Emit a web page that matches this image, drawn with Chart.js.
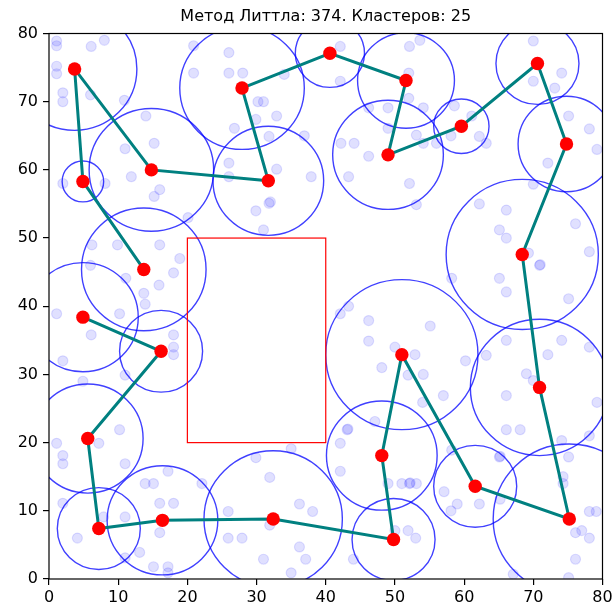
<!DOCTYPE html>
<html>
<head>
<meta charset="utf-8">
<script src="https://cdn.jsdelivr.net/npm/chart.js@4/dist/chart.umd.min.js"></script>
<style>
html,body{margin:0;padding:0;background:#fff;}
#wrap{width:612px;height:608px;}
</style>
</head>
<body>
<div id="wrap"><canvas id="c" width="612" height="608"></canvas></div>
<script>
// ---------- DATA ----------
const titleText = "Метод Литтла: 374. Кластеров: 25";
const axisTicks = [0, 10, 20, 30, 40, 50, 60, 70, 80];

// cluster centres in tour order, and cluster radii
const clusterX = [13.7, 4.9, 3.7, 14.8, 31.7, 27.9, 40.6, 51.6, 49.0, 59.6, 70.6, 74.8, 68.4, 70.9, 75.2, 61.6, 51.0, 48.1, 49.8, 32.4, 16.4, 7.2, 5.6, 16.2, 4.9];
const clusterY = [45.4, 58.3, 74.8, 60.0, 58.4, 72.0, 77.1, 73.1, 62.2, 66.4, 75.6, 63.8, 47.6, 28.1, 8.8, 13.6, 32.9, 18.1, 5.8, 8.8, 8.6, 7.4, 20.6, 33.4, 38.4];
const clusterR = [9, 3, 9, 9, 8, 9, 5, 7, 8, 4, 6, 7, 11, 10, 11, 6, 11, 8, 6, 10, 8, 6, 8, 6, 8];

// forbidden zone rectangle
const zoneX = [20, 40];
const zoneY = [20, 50];

// all source points
const pointsX = [
 1.1,1.1,6.1,8.0,1.1,1.1,2.0,2.0,6.0,10.9,
 14.0,15.2,11.0,11.9,16.0,15.2,
 2.0,8.1,20.1,
 6.2,9.9,16.0,18.9,6.0,18.0,11.1,15.9,13.7,13.9,
 20.9,20.9,26.0,26.0,28.0,34.0,30.2,31.0,26.8,29.9,32.9,
 31.8,36.9,26.0,26.0,32.9,37.9,31.8,32.0,29.9,31.0,
 42.1,42.1,
 52.1,53.6,52.0,52.0,46.2,49.0,54.1,49.0,53.1,
 54.1,56.0,42.2,44.1,46.2,43.3,52.1,53.1,
 58.1,58.6,61.1,62.2,63.2,
 70.0,74.1,70.0,73.1,
 75.1,78.1,79.2,72.1,70.0,
 62.2,66.1,65.1,66.1,76.1,78.1,69.3,70.9,71.0,65.1,66.1,75.1,58.2,
 1.1,10.2,6.1,2.0,4.9,
 18.0,18.0,18.0,11.0,
 1.1,2.0,2.0,7.2,10.2,11.0,2.0,
 17.2,13.9,15.1,16.0,18.0,22.1,16.0,13.1,11.0,15.1,17.2,17.2,
 7.9,11.0,4.1,
 25.9,25.9,27.9,29.9,31.9,35.0,36.2,38.1,31.9,31.0,36.2,37.1,35.0,
 42.1,43.3,46.2,46.2,50.0,52.9,55.1,48.1,51.9,54.1,60.2,57.0,54.0,
 43.1,43.2,42.1,42.1,47.1,49.0,51.0,52.1,52.2,53.1,
 50.0,51.9,53.0,44.0,
 58.2,57.1,59.0,58.1,62.2,65.1,65.2,65.2,
 66.1,63.2,69.0,70.0,66.1,66.1,68.1,72.1,74.1,78.1,79.2,
 78.1,74.1,75.1,74.3,74.3,78.1,79.1,76.1,77.0,78.1,76.1,75.1,67.1
];
const pointsY = [
 78.9,78.2,78.1,79.0,75.2,74.1,71.3,70.0,71.0,70.2,
 67.9,63.9,63.1,59.0,57.1,56.1,
 58.0,58.0,53.0,
 49.0,49.0,49.0,47.0,46.0,44.9,44.1,43.1,41.9,40.3,
 78.2,74.2,77.2,74.2,74.2,74.0,70.0,70.0,66.1,67.4,67.9,
 64.9,65.0,61.0,59.0,60.1,59.0,55.1,55.3,54.0,51.2,
 78.1,73.0,
 78.1,79.0,74.2,70.5,69.1,69.1,69.1,66.1,65.1,
 63.9,63.9,63.9,63.9,62.0,59.0,58.0,54.9,
 65.0,69.4,67.9,64.9,63.9,
 78.9,74.2,73.0,72.0,
 67.9,66.0,63.0,61.0,57.9,
 55.0,54.1,51.2,50.0,52.1,48.0,47.8,46.0,46.1,44.1,42.1,41.1,44.1,
 38.9,38.9,35.8,32.0,29.0,
 35.8,34.0,32.9,29.9,
 19.9,18.1,16.9,19.9,21.9,16.9,11.1,
 15.8,14.0,14.0,11.1,11.1,14.0,6.8,3.9,3.1,1.8,1.8,0.9,
 9.1,9.1,6.0,
 9.9,6.0,6.0,17.8,14.9,19.1,11.0,9.9,7.9,2.9,4.7,2.9,0.9,
 38.9,40.0,37.9,34.9,34.0,32.9,37.1,31.0,29.9,30.0,32.0,26.9,25.9,
 21.9,22.0,19.9,15.8,23.1,14.0,14.0,14.0,14.1,14.0,
 7.1,7.1,6.0,2.9,
 18.9,12.8,11.0,10.0,11.0,17.9,18.0,11.7,
 35.0,32.8,30.1,29.1,26.9,21.9,21.9,32.9,35.0,34.0,25.9,
 21.0,20.3,17.9,15.0,14.0,9.9,9.9,6.8,7.1,6.0,2.9,0.2,0.7
];

// ---------- BUILD ----------
const bgData = pointsX.map((x, i) => ({x: x, y: pointsY[i]}));
const tourData = clusterX.map((x, i) => ({x: x, y: clusterY[i]}));

Chart.defaults.font.family = "'DejaVu Sans', sans-serif";
Chart.defaults.color = '#000';

const overlay = {
  id: 'overlay',
  afterDatasetDraw(chart, args) {
    if (args.index !== 0) return;
    const ctx = chart.ctx, a = chart.chartArea;
    const xs = chart.scales.x, ys = chart.scales.y;
    ctx.save();
    ctx.beginPath();
    ctx.rect(a.left, a.top, a.right - a.left, a.bottom - a.top);
    ctx.clip();
    ctx.strokeStyle = 'rgba(0,0,255,0.75)';
    ctx.lineWidth = 1.4;
    for (let i = 0; i < clusterX.length; i++) {
      const cx = xs.getPixelForValue(clusterX[i]);
      const cy = ys.getPixelForValue(clusterY[i]);
      const rx = Math.abs(xs.getPixelForValue(clusterX[i] + clusterR[i]) - cx);
      const ry = Math.abs(ys.getPixelForValue(clusterY[i] + clusterR[i]) - cy);
      ctx.beginPath();
      ctx.ellipse(cx, cy, rx, ry, 0, 0, Math.PI * 2);
      ctx.stroke();
    }
    // forbidden zone
    const x0 = xs.getPixelForValue(zoneX[0]), x1 = xs.getPixelForValue(zoneX[1]);
    const y0 = ys.getPixelForValue(zoneY[0]), y1 = ys.getPixelForValue(zoneY[1]);
    ctx.strokeStyle = '#ff0000';
    ctx.lineWidth = 1.2;
    ctx.strokeRect(x0, y1, x1 - x0, y0 - y1);
    ctx.restore();
  },
  afterDraw(chart) {
    const ctx = chart.ctx, a = chart.chartArea;
    ctx.save();
    ctx.strokeStyle = '#000';
    ctx.lineWidth = 1.2;
    ctx.strokeRect(a.left, a.top, a.right - a.left, a.bottom - a.top);
    // title centred over the plot area
    ctx.fillStyle = '#000';
    ctx.font = "16px 'DejaVu Sans', sans-serif";
    ctx.textAlign = 'center';
    ctx.textBaseline = 'middle';
    ctx.fillText(titleText, (a.left + a.right) / 2, 17);
    ctx.restore();
  }
};

function fixedWidth(w) {
  return function (scale) { scale.width = w; scale.paddingLeft = 0; scale.paddingRight = 0; scale.paddingTop = 0; scale.paddingBottom = 0; };
}
function fixedHeight(h) {
  return function (scale) { scale.height = h; scale.paddingLeft = 0; scale.paddingRight = 0; scale.paddingTop = 0; scale.paddingBottom = 0; };
}

new Chart(document.getElementById('c'), {
  type: 'scatter',
  data: {
    datasets: [
      {
        data: bgData,
        pointRadius: 5,
        pointBackgroundColor: 'rgba(0,0,255,0.12)',
        pointBorderColor: 'rgba(0,0,255,0.12)',
        pointBorderWidth: 1.2,
        order: 2,
        clip: 0
      },
      {
        data: tourData,
        showLine: true,
        borderColor: '#008080',
        borderWidth: 3,
        pointRadius: 6.7,
        pointBackgroundColor: '#ff0000',
        pointBorderColor: '#ff0000',
        pointBorderWidth: 0,
        order: 1,
        clip: 0
      }
    ]
  },
  options: {
    responsive: false,
    animation: false,
    events: [],
    layout: { padding: { left: 0, right: 9.5, top: 33.5, bottom: 0 } },
    plugins: {
      legend: { display: false },
      tooltip: { enabled: false },
      title: { display: false }
    },
    scales: {
      x: {
        type: 'linear',
        min: 0, max: 80,
        afterBuildTicks: (s) => { s.ticks = axisTicks.map(v => ({value: v})); },
        afterFit: fixedHeight(29),
        grid: { drawOnChartArea: false, drawTicks: true, tickLength: 6, color: '#000', lineWidth: 1.2 },
        border: { display: false },
        ticks: { padding: 3, font: { size: 16 }, color: '#000', maxRotation: 0 }
      },
      y: {
        type: 'linear',
        min: 0, max: 80,
        afterBuildTicks: (s) => { s.ticks = axisTicks.map(v => ({value: v})); },
        afterFit: fixedWidth(49),
        grid: { drawOnChartArea: false, drawTicks: true, tickLength: 6, color: '#000', lineWidth: 1.2 },
        border: { display: false },
        ticks: { padding: 5, font: { size: 16 }, color: '#000' }
      }
    }
  },
  plugins: [overlay]
});
</script>
</body>
</html>
